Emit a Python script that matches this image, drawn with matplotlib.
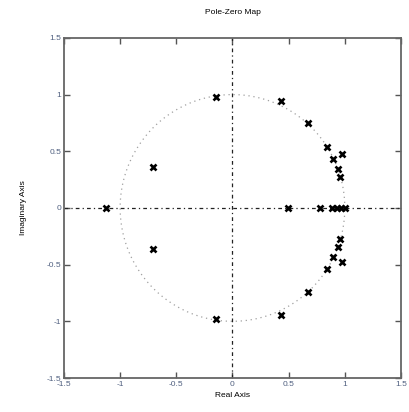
import numpy as np
import matplotlib
matplotlib.use("Agg")
from matplotlib import pyplot as plt

plt.rcParams['font.family'] = ['Liberation Sans', 'DejaVu Sans']

# pole locations (upper half plane; conjugates are mirrored below)
pole_re = [-0.71, -0.145, 0.43, 0.675, 0.84, 0.895, 0.94, 0.957, 0.975]
pole_im = [0.36, 0.98, 0.945, 0.745, 0.54, 0.435, 0.345, 0.27, 0.48]
# real poles
real_poles = [-1.13, 0.49, 0.78, 0.89, 0.93, 0.965, 1.0]

ticks = [-1.5, -1, -0.5, 0, 0.5, 1, 1.5]
tick_labels = ['-1.5', '-1', '-0.5', '0', '0.5', '1', '1.5']

fig = plt.figure(figsize=(4.1, 4.12), dpi=100)
ax = fig.add_axes([0.156, 0.0825, 0.822, 0.8255])

# unit circle
th = np.linspace(0, 2 * np.pi, 400)
ax.plot(np.cos(th), np.sin(th), color='#a0a0a0', linestyle=(0, (1, 3)), linewidth=0.9)

# axis lines through the origin
ax.axhline(0, color='#222222', linestyle=(0, (3, 2.5, 1, 2.5)), linewidth=0.9)
ax.axvline(0, color='#222222', linestyle=(0, (3, 2.5, 1, 2.5)), linewidth=0.9)

re = np.concatenate([pole_re, pole_re, real_poles])
im = np.concatenate([pole_im, -np.array(pole_im), np.zeros(len(real_poles))])
ax.plot(re, im, linestyle='none', marker='x', color='black',
        markersize=4.3, markeredgewidth=1.9)

ax.set_xlim(-1.5, 1.5)
ax.set_ylim(-1.5, 1.5)
ax.set_xticks(ticks)
ax.set_xticklabels(tick_labels)
ax.set_yticks(ticks)
ax.set_yticklabels(tick_labels)
ax.tick_params(direction='in', top=True, right=True, length=4, width=1,
               color='#555555', labelsize=6, labelcolor='#506080', pad=2)
for s in ax.spines.values():
    s.set_color('#666666')
    s.set_linewidth(1.3)

ax.set_title('Pole-Zero Map', fontsize=6, pad=17)
ax.set_xlabel('Real Axis', fontsize=6, labelpad=3)
ax.set_ylabel('Imaginary Axis', fontsize=6, labelpad=14)

fig.savefig('out.png', dpi=100)
